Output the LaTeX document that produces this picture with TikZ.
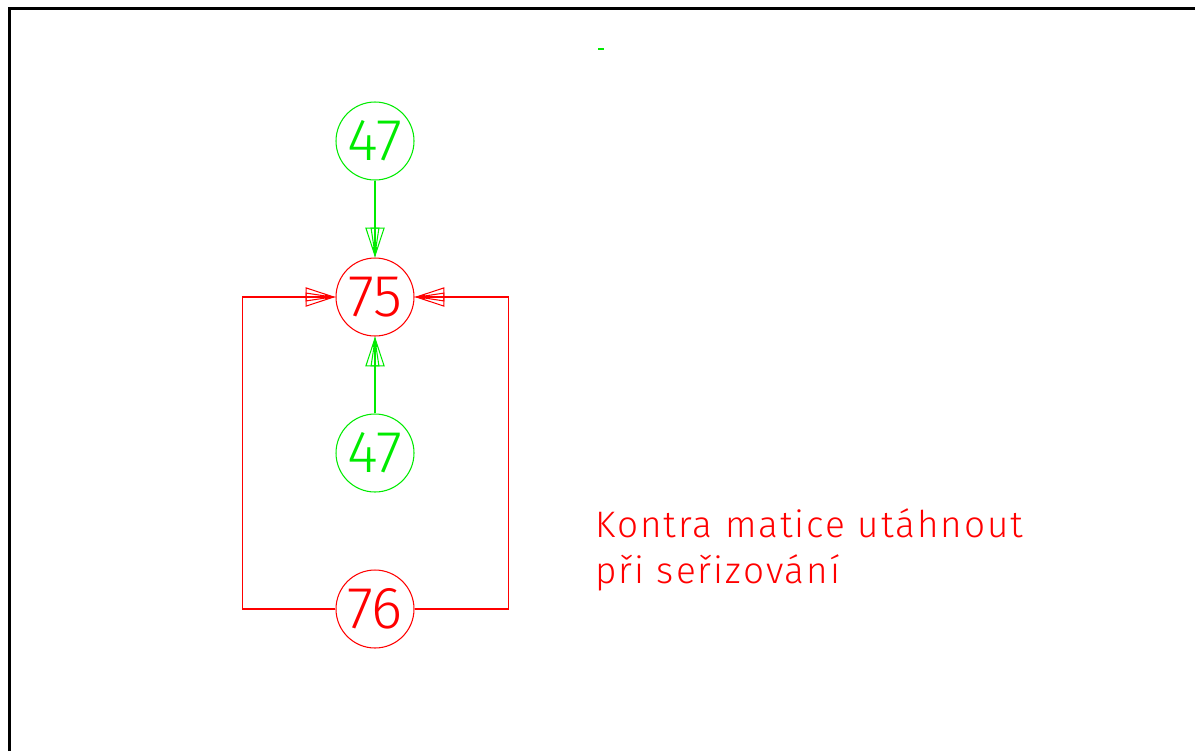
\documentclass[tikz,border=0pt]{standalone}
\usepackage{fontspec}
\newfontfamily\cadfont{Fira Sans Light}
\newfontfamily\notefont[LetterSpace=5.5]{Fira Sans Light}
\usetikzlibrary{arrows.meta}
\definecolor{cadred}{RGB}{255,0,0}
\definecolor{cadgreen}{RGB}{0,235,0}
\begin{document}
\begin{tikzpicture}[x=.02cm,y=-.02cm,every node/.style={font=\cadfont},
  part/.style={circle,draw,line width=.6pt,minimum size=1.56cm,inner sep=0pt,font=\cadfont\fontsize{33.7}{34}\selectfont},
  feed/.style={line width=.6pt,-{Triangle[open,length=17pt,width=11pt]},
    postaction={draw,-{Triangle[open,length=17pt,width=5pt]}},
    postaction={draw,-{Triangle[length=6pt,width=2.5pt]}}}]
    \useasboundingbox (0,0) rectangle (1195,751);
    \draw[line width=1.8pt] (9.5,751) -- (9.5,8.7) -- (1195,8.7);
    \draw[cadgreen,line width=.6pt] (598,49) -- (604,49);
    % parts
    \node[part,cadgreen] (p47a) at (375,141) {47};
    \node[part,cadred] (p75) at (375,297) {75};
    \node[part,cadgreen] (p47b) at (375,453) {47};
    \node[part,cadred] (p76) at (375,609) {76};
    % connections
    \draw[feed,cadgreen] (p47a) -- (p75);
    \draw[feed,cadgreen] (p47b) -- (p75);
    \draw[feed,cadred] (p76.west) -- ++(-93,0) |- (p75.west);
    \draw[feed,cadred] (p76.east) -- ++(94,0) |- (p75.east);
    % note
    \node[text=cadred,anchor=base west,inner sep=0pt,font=\notefont\fontsize{21}{22}\selectfont] (note1) at (595,537) {Kontra matice utáhnout};
    \node[text=cadred,anchor=base west,inner sep=0pt,font=\notefont\fontsize{21}{22}\selectfont] (note2) at (595,583) {při seřizování};
  \end{tikzpicture}
\end{document}
